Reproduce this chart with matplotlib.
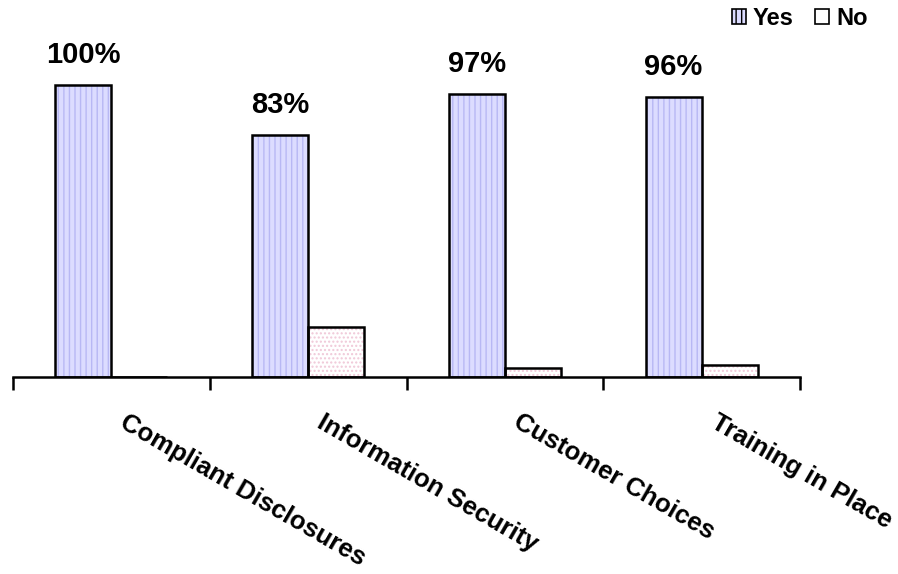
import matplotlib.pyplot as plt
import numpy as np
from matplotlib.patches import Patch

plt.rcParams['font.family'] = ['Liberation Sans', 'DejaVu Sans']
plt.rcParams['font.weight'] = 'bold'

categories = ['Compliant Disclosures', 'Information Security',
              'Customer Choices', 'Training in Place']
yes_pct = [100, 83, 97, 96]
no_pct = [0, 17, 3, 4]

yes_face = '#dcdcff'
yes_hatch = '#b8b8f4'
no_face = '#ffffff'
no_hatch = '#f0c8d8'

fig = plt.figure(figsize=(8.98, 5.74), dpi=100)
ax = fig.add_axes([13 / 898, 197 / 574, 787 / 898, 337 / 574])

x = np.arange(len(categories))
w = 0.285

# hatched fill first, black outline drawn on top
ax.bar(x - w / 2, yes_pct, w, color=yes_face, edgecolor=yes_hatch,
       hatch='|||', linewidth=0, zorder=2)
ax.bar(x + w / 2, no_pct, w, color=no_face, edgecolor=no_hatch,
       hatch='....', linewidth=0, zorder=2)
ax.bar(x - w / 2, yes_pct, w, fill=False, edgecolor='black', linewidth=1.8, zorder=3)
ax.bar(x + w / 2, no_pct, w, fill=False, edgecolor='black', linewidth=1.8, zorder=3)

for xi, v in zip(x, yes_pct):
    ax.annotate(f'{v}%', xy=(xi - w / 2, v), xytext=(0, 22),
                textcoords='offset pixels', ha='center', va='baseline',
                fontsize=21, fontweight='bold')

ax.set_xlim(-0.5, len(categories) - 0.5)
ax.set_ylim(0, 115.4)

ax.set_xticks(np.arange(len(categories) + 1) - 0.5)
ax.set_xticklabels([])
ax.tick_params(axis='x', which='major', length=9, width=1.8, color='black')
ax.set_yticks([])

# slanted category names under each group
for xi, name in zip(x, categories):
    ax.annotate(name, xy=(xi, 0), xycoords=('data', 'axes fraction'),
                xytext=(17, -33), textcoords='offset pixels',
                rotation=-30, rotation_mode='anchor', ha='left', va='top',
                fontsize=18.5, fontweight='bold')

for s in ['top', 'right', 'left']:
    ax.spines[s].set_visible(False)
ax.spines['bottom'].set_linewidth(1.8)

handles = [Patch(facecolor=yes_face, edgecolor='black', hatch='|||', linewidth=1.2),
           Patch(facecolor=no_face, edgecolor='black', linewidth=1.2)]
fig.legend(handles, ['Yes', 'No'], loc='upper right', bbox_to_anchor=(0.99, 1.025),
           ncol=2, frameon=False, handlelength=0.6, handleheight=0.6,
           handletextpad=0.3, columnspacing=0.9, prop={'weight': 'bold', 'size': 17})

fig.savefig('out.png', dpi=100)
